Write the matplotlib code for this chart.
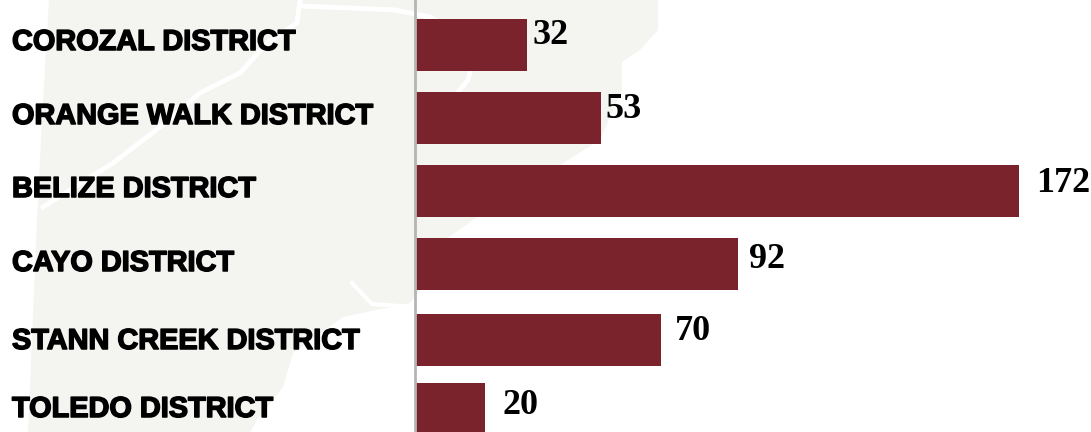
import matplotlib
matplotlib.use('Agg')
import matplotlib.pyplot as plt
import matplotlib.patheffects as pe
from matplotlib.patches import Polygon

# 구역 이름과 값
districts = ['COROZAL DISTRICT', 'ORANGE WALK DISTRICT', 'BELIZE DISTRICT',
             'CAYO DISTRICT', 'STANN CREEK DISTRICT', 'TOLEDO DISTRICT']
values = [32, 53, 172, 92, 70, 20]

# 막대 위치 (픽셀, 위에서부터)
bar_y = [45, 118, 191, 264, 340, 409]
label_y = [42, 116, 189, 263, 341, 409]
value_y = [35, 109, 183, 259, 332, 405]
value_x = [533, 605, 1036, 749, 675, 502]

W, H = 1091, 432
fig = plt.figure(figsize=(W / 100, H / 100), dpi=100)

# 배경 지도
bg = fig.add_axes([0, 0, 1, 1])
bg.set_xlim(0, W)
bg.set_ylim(H, 0)
bg.axis('off')
land = [(49, 0), (658, 0), (658, 30), (640, 50), (622, 62), (622, 90), (600, 140),
        (560, 165), (480, 215), (445, 240), (425, 285), (410, 303), (343, 317),
        (293, 353), (283, 387), (257, 420), (250, 432), (28, 432), (37, 220), (42, 120)]
bg.add_patch(Polygon(land, closed=True, color='#f4f4f1', lw=0))
# 지도 안의 흰 경계선
bg.plot([300, 297, 267, 240, 200, 160, 113, 43], [0, 23, 43, 73, 93, 127, 163, 207],
        color='white', lw=3.5)
bg.plot([300, 350, 395, 430, 462, 472, 468, 458], [6, 8, 10, 17, 36, 65, 80, 92],
        color='white', lw=3.5)
bg.plot([352, 372, 400], [283, 304, 306], color='white', lw=3)

# 막대는 축 위에 그림 (1값 = 3.51픽셀)
ax = fig.add_axes([415 / W, 0, (W - 415) / W, 1])
ax.patch.set_alpha(0)
ax.set_xlim(0, (W - 415) / 3.51)
ax.set_ylim(H, 0)
ax.barh(bar_y, values, height=52, color='#7a232c')
ax.set_xticks([])
ax.set_yticks([])
for s in ['top', 'right', 'bottom']:
    ax.spines[s].set_visible(False)
ax.spines['left'].set_color('#b5b5b5')
ax.spines['left'].set_linewidth(2)

for name, y in zip(districts, label_y):
    bg.text(12, y, name, fontsize=20.8, fontweight='bold', family='Liberation Sans',
            va='center', ha='left', color='black',
            path_effects=[pe.withStroke(linewidth=1.1, foreground='black')])

for v, x, y in zip(values, value_x, value_y):
    ax.annotate(str(v), xy=(x / W, 1 - y / H), xycoords='figure fraction',
                fontsize=26, fontweight='bold', family='Liberation Serif',
                va='center', ha='left', color='black')

fig.savefig('out.png', dpi=100)
